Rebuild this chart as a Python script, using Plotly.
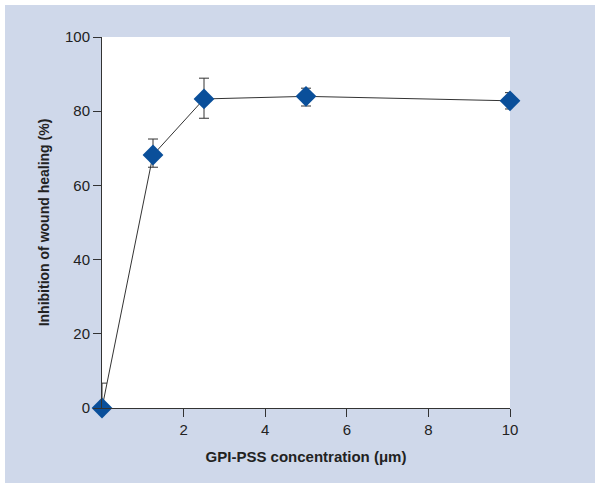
import plotly.graph_objects as go

# Data
concentration = [0, 1.25, 2.5, 5, 10]
inhibition = [0, 68.2, 83.3, 84.0, 82.8]
err_plus = [6.7, 4.3, 5.6, 2.2, 2.2]
err_minus = [5.9, 3.3, 5.2, 2.6, 2.2]
x_ticks = [2, 4, 6, 8, 10]
y_ticks = [0, 20, 40, 60, 80, 100]

panel = "#cfd8ea"
marker_blue = "#0a4f9a"
ink = "#333333"

fig = go.Figure()
fig.add_trace(go.Scatter(
    x=concentration, y=inhibition,
    mode="lines+markers",
    line=dict(color=ink, width=1),
    marker=dict(symbol="diamond", size=16, color=marker_blue, line=dict(width=0)),
    error_y=dict(type="data", symmetric=False, array=err_plus, arrayminus=err_minus,
                 color=ink, thickness=1, width=5),
    cliponaxis=False,
    showlegend=False,
))

L, R, T, B = 102, 91, 37, 81
W, H = 601, 489
pw, ph = W - L - R, H - T - B

def px2x(px):
    return (px - L) / pw

def py2y(py):
    return (H - B - py) / ph

fig.add_shape(type="rect", xref="paper", yref="paper",
              x0=px2x(5), x1=px2x(595), y0=py2y(483), y1=py2y(5),
              fillcolor=panel, line=dict(width=0), layer="below")
fig.add_shape(type="rect", xref="paper", yref="paper",
              x0=0, x1=1, y0=0, y1=1,
              fillcolor="white", line=dict(width=0), layer="below")

font_family = "Liberation Sans, Arial, sans-serif"

fig.update_layout(
    width=W, height=H,
    margin=dict(l=L, r=R, t=T, b=B, autoexpand=False),
    paper_bgcolor="white",
    plot_bgcolor="white",
    font=dict(family=font_family, color="#222222", size=15),
    xaxis=dict(
        range=[0, 10], tickvals=x_ticks, ticks="outside", ticklen=8, tickwidth=1,
        tickcolor=ink, showline=True, linecolor=ink, linewidth=1, showgrid=False,
        zeroline=False, tickfont=dict(size=15), automargin=False,
        title=dict(text="<b>GPI-PSS concentration (μm)</b>", font=dict(size=15), standoff=14),
    ),
    yaxis=dict(
        range=[0, 100], tickvals=y_ticks, ticks="outside", ticklen=8, tickwidth=1,
        tickcolor=ink, showline=True, linecolor=ink, linewidth=1, showgrid=False,
        zeroline=False, tickfont=dict(size=15), automargin=False,
        title=dict(text="<b>Inhibition of wound healing (%)</b>", font=dict(size=14), standoff=12),
    ),
)

fig.write_html("out.html", config={"displayModeBar": False},
               post_script="document.body.style.margin='0';")
